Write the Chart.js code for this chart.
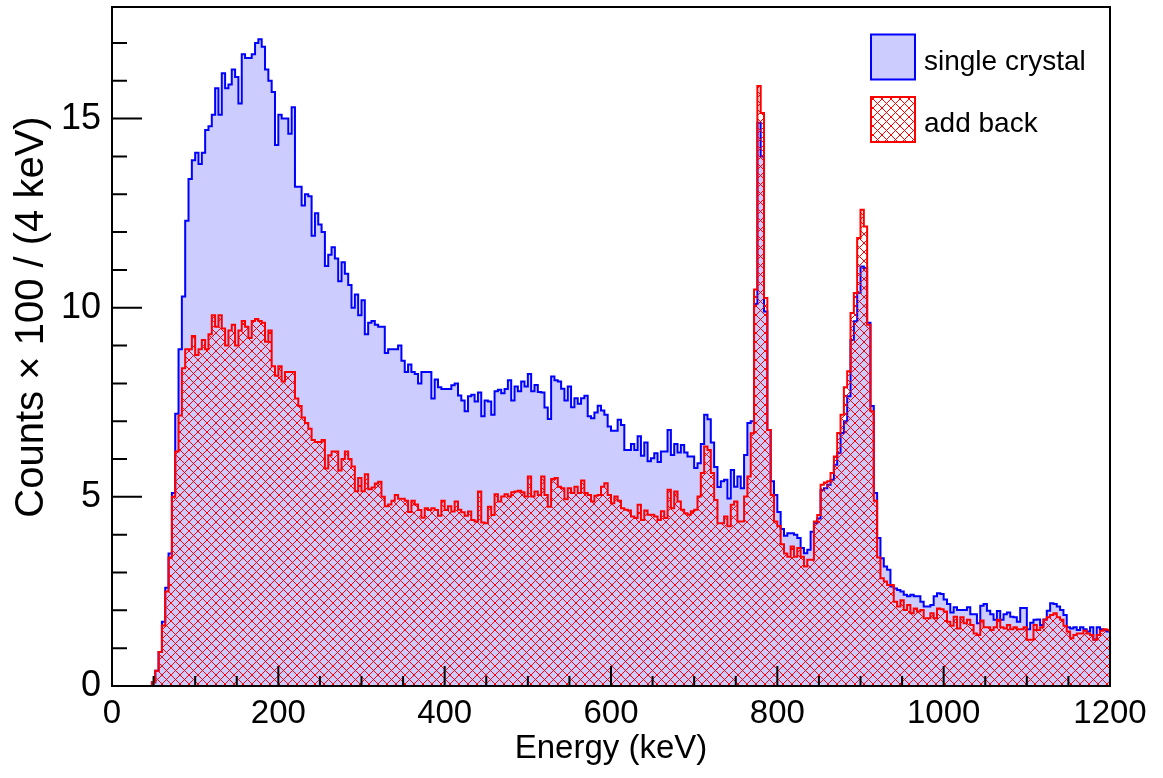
<!DOCTYPE html>
<html>
<head>
<meta charset="utf-8">
<script src="https://cdn.jsdelivr.net/npm/chart.js@4.4.1/dist/chart.umd.min.js"></script>
<style>
  body { margin: 0; background: #fff; }
  canvas { display: block; }
</style>
</head>
<body>
<canvas id="spectrum" width="1163" height="778"></canvas>
<script>
// 300 bins of 4 keV, 0 - 1200 keV, counts / 100
const binWidth = 4;

const singleCrystal = [
  0, 0, 0, 0, 0, 0, 0, 0, 0, 0,
  0, 0, 0.1, 0.4, 0.9, 1.7, 2.6, 3.5, 5.1, 7.2,
  8.9, 10.3, 12.3, 13.4, 13.9, 14.1, 13.8, 14.1, 14.7, 14.8,
  15.1, 15.8, 15.1, 16.2, 15.8, 15.9, 16.3, 16.1, 15.4, 16.7,
  16.6, 16.6, 16.7, 17.0, 17.1, 16.9, 16.3, 16.0, 15.7, 14.3,
  15.1, 15.0, 15.0, 14.6, 15.3, 13.2, 13.2, 12.7, 13.0, 12.95,
  11.9, 12.5, 12.2, 12.0, 11.1, 11.4, 11.6, 11.3, 10.7, 11.2,
  10.9, 10.6, 10.0, 10.35, 9.8, 10.2, 9.3, 9.6, 9.65, 9.55,
  9.5, 9.5, 8.8, 8.9, 8.9, 8.9, 9.0, 8.6, 8.3, 8.5,
  8.3, 8.25, 8.0, 8.3, 8.3, 8.3, 7.6, 8.1, 7.9, 7.85,
  7.85, 7.85, 7.95, 8.0, 7.68, 7.55, 7.26, 7.66, 7.7, 7.52,
  7.76, 7.13, 7.55, 7.52, 7.17, 7.79, 7.83, 7.74, 7.85, 8.08,
  7.55, 7.92, 7.79, 8.05, 7.92, 8.25, 7.79, 7.96, 7.77, 7.76,
  7.36, 7.06, 8.18, 8.08, 8.05, 7.86, 7.55, 7.92, 7.37, 7.61,
  7.46, 7.61, 7.67, 7.13, 7.08, 7.23, 7.41, 7.28, 7.17, 6.86,
  6.75, 6.75, 7.04, 6.9, 6.24, 6.24, 6.4, 6.24, 6.6, 6.09,
  6.44, 5.94, 6.02, 6.15, 5.92, 6.2, 6.2, 6.77, 6.11, 6.4,
  6.17, 6.37, 6.17, 6.07, 6.07, 5.76, 5.89, 6.4, 7.17, 7.05,
  6.44, 5.79, 5.26, 5.41, 5.45, 4.96, 5.71, 5.27, 5.54, 5.23,
  6.11, 6.95, 7.0, 10.1, 14.89, 14.0, 9.9, 6.77, 5.41, 5.05,
  4.6, 4.15, 3.97, 4.04, 4.04, 4.0, 3.91, 3.65, 3.51, 3.6,
  4.08, 4.3, 4.43, 5.18, 5.23, 5.32, 5.45, 5.85, 6.16, 6.69,
  7.0, 7.66, 9.15, 9.64, 10.39, 11.09, 11.05, 9.6, 7.4, 5.1,
  3.91, 3.38, 3.16, 3.07, 2.63, 2.58, 2.54, 2.5, 2.41, 2.37,
  2.41, 2.37, 2.37, 2.23, 2.1, 2.1, 2.14, 2.37, 2.45, 2.43,
  2.29, 2.17, 1.94, 2.08, 2.01, 2.01, 2.01, 2.08, 1.9, 1.9,
  1.66, 2.12, 2.17, 1.99, 1.9, 1.75, 1.98, 1.75, 1.9, 1.94,
  1.83, 1.82, 1.70, 2.06, 2.06, 1.5, 1.67, 1.75, 1.76, 1.61,
  1.76, 1.99, 2.19, 2.17, 2.1, 2.01, 1.88, 1.55, 1.52, 1.55,
  1.48, 1.55, 1.5, 1.44, 1.55, 1.23, 1.55, 1.5, 1.48, 1.44
];

const addBack = [
  0, 0, 0, 0, 0, 0, 0, 0, 0, 0,
  0, 0, 0.1, 0.4, 0.9, 1.6, 2.5, 3.4, 5.0, 6.2,
  7.15, 8.4, 8.9, 8.9, 9.25, 8.75, 8.9, 9.15, 8.9, 9.3,
  9.8, 9.5, 9.8, 9.45, 9.0, 9.4, 9.55, 9.0, 9.4, 9.65,
  9.5, 9.2, 9.65, 9.7, 9.65, 9.6, 9.1, 9.4, 8.45, 8.2,
  8.45, 8.05, 8.3, 8.3, 8.3, 7.6, 7.4, 7.1, 6.95, 6.8,
  6.5, 6.45, 6.45, 6.5, 5.75, 6.1, 6.2, 6.2, 5.7, 6.0,
  6.2, 6.0, 5.8, 5.15, 5.5, 5.15, 5.6, 5.2, 5.25, 5.35,
  5.4, 5.0, 4.75, 4.8, 4.9, 5.05, 4.95, 4.95, 4.9, 4.6,
  4.9, 4.8, 4.65, 4.45, 4.7, 4.65, 4.7, 4.65, 4.5, 4.9,
  4.65, 4.75, 4.61, 4.88, 4.66, 4.59, 4.5, 4.61, 4.39, 4.35,
  5.14, 4.32, 4.3, 4.74, 4.52, 5.07, 4.88, 5.01, 5.07, 5.01,
  5.12, 5.14, 5.16, 5.12, 5.01, 5.54, 5.01, 5.14, 5.05, 5.54,
  5.05, 4.74, 5.47, 5.5, 5.27, 5.23, 4.94, 5.23, 5.1, 5.27,
  5.1, 5.43, 5.1, 5.05, 4.88, 5.03, 5.05, 5.27, 5.36, 5.05,
  4.83, 5.01, 4.9, 4.7, 4.66, 4.64, 4.48, 4.44, 4.79, 4.39,
  4.64, 4.53, 4.53, 4.48, 4.39, 4.62, 4.44, 5.19, 4.7, 5.14,
  4.88, 4.66, 4.57, 4.53, 4.62, 4.66, 5.01, 5.63, 6.33, 6.24,
  5.63, 4.92, 4.3, 4.3, 4.48, 4.22, 4.79, 4.88, 4.35, 4.35,
  5.01, 5.54, 6.68, 10.48, 15.86, 15.15, 10.26, 6.77, 5.05, 4.35,
  4.23, 3.75, 3.5, 3.42, 3.69, 3.42, 3.65, 3.42, 3.16, 3.34,
  3.34, 4.35, 4.52, 5.32, 5.38, 5.41, 5.63, 6.07, 6.69, 7.17,
  7.9, 8.32, 9.86, 10.39, 11.84, 12.59, 12.15, 9.55, 7.26, 4.9,
  3.4, 2.85, 2.76, 2.67, 2.67, 2.23, 2.1, 2.27, 2.01, 2.14,
  1.92, 2.05, 1.97, 2.01, 1.79, 1.79, 1.92, 1.79, 2.05, 2.03,
  1.97, 1.70, 1.59, 1.83, 1.52, 1.82, 1.66, 1.75, 1.61, 1.39,
  1.35, 1.73, 1.55, 1.55, 1.48, 1.55, 1.75, 1.55, 1.52, 1.61,
  1.5, 1.55, 1.5, 1.5, 1.55, 1.22, 1.22, 1.61, 1.48, 1.55,
  1.75, 1.82, 1.88, 1.92, 1.82, 1.75, 1.59, 1.44, 1.26, 1.35,
  1.39, 1.39, 1.46, 1.39, 1.35, 1.22, 1.35, 1.46, 1.5, 1.48
];

const xTickLabels = [0, 200, 400, 600, 800, 1000, 1200];
const yTickLabels = [0, 5, 10, 15];
const xMinorStep = 50;
const yMinorStep = 1;
const yMax = 17.95;

const FONT = '"Liberation Sans", Arial, Helvetica, sans-serif';
const LAVENDER = 'rgb(204,204,255)';

// lower bin edges + closing point, drawn as a stepped line
const toSteps = values => {
    const pts = values.map((v, i) => ({ x: i * binWidth, y: v }));
    pts.push({ x: values.length * binWidth, y: values[values.length - 1] });
    return pts;
};

// ROOT style 3344 cross hatch, one pixel wide diagonals
const makeHatch = () => {
    const size = 9;
    const c = document.createElement('canvas');
    c.width = size;
    c.height = size;
    const g = c.getContext('2d');
    g.fillStyle = '#ff0000';
    for (let i = 0; i < size; i++) {
        g.fillRect(i, i, 1, 1);
        g.fillRect(size - 1 - i, i, 1, 1);
    }
    return g.createPattern(c, 'repeat');
};

const ctx = document.getElementById('spectrum').getContext('2d');
const hatch = makeHatch();

const rootStyle = {
    id: 'rootStyle',
    afterDatasetsDraw(chart) {
        const { ctx, chartArea: a, scales } = chart;
        ctx.save();
        ctx.strokeStyle = '#000';
        ctx.lineWidth = 2;
        // ticks, drawn inside the frame
        ctx.beginPath();
        for (let v = 0; v <= 1200; v += xMinorStep) {
            const px = scales.x.getPixelForValue(v);
            const len = v % 200 === 0 ? 20 : 10;
            ctx.moveTo(px, a.bottom);
            ctx.lineTo(px, a.bottom - len);
        }
        for (let v = yMinorStep; v < yMax; v += yMinorStep) {
            const py = scales.y.getPixelForValue(v);
            const len = v % 5 === 0 ? 30 : 15;
            ctx.moveTo(a.left, py);
            ctx.lineTo(a.left + len, py);
        }
        ctx.stroke();
        ctx.strokeRect(a.left, a.top, a.right - a.left, a.bottom - a.top);
        ctx.restore();
    },
    afterDraw(chart) {
        const { ctx, chartArea: a } = chart;
        ctx.save();
        ctx.fillStyle = '#000';
        // axis titles
        ctx.font = '33px ' + FONT;
        ctx.textAlign = 'center';
        ctx.textBaseline = 'alphabetic';
        ctx.fillText('Energy (keV)', (a.left + a.right) / 2, 758);
        ctx.save();
        ctx.translate(43, 317);
        ctx.rotate(-Math.PI / 2);
        ctx.font = '40px ' + FONT;
        ctx.fillText('Counts \u00d7 100 / (4 keV)', 0, 0);
        ctx.restore();

        // legend
        const ds = chart.data.datasets;
        const rows = [{ y: 34.5, base: 70 }, { y: 97, base: 131.5 }];
        ds.forEach((d, i) => {
            const r = rows[i];
            ctx.fillStyle = '#fff';
            ctx.fillRect(871, r.y, 44, 45);
            ctx.fillStyle = d.backgroundColor;
            ctx.fillRect(871, r.y, 44, 45);
            ctx.strokeStyle = d.borderColor;
            ctx.lineWidth = 2;
            ctx.strokeRect(871, r.y, 44, 45);
            ctx.fillStyle = '#000';
            ctx.font = '28px ' + FONT;
            ctx.textAlign = 'left';
            ctx.fillText(d.label, 924, r.base);
        });
        ctx.restore();
    }
};

new Chart(ctx, {
    type: 'line',
    data: {
        datasets: [
            {
                label: 'single crystal',
                data: toSteps(singleCrystal),
                stepped: 'before',
                borderColor: '#0000ff',
                backgroundColor: LAVENDER,
                borderWidth: 2,
                fill: 'origin',
                pointRadius: 0,
                order: 2
            },
            {
                label: 'add back',
                data: toSteps(addBack),
                stepped: 'before',
                borderColor: '#ff0000',
                backgroundColor: hatch,
                borderWidth: 2,
                fill: 'origin',
                pointRadius: 0,
                order: 1
            }
        ]
    },
    options: {
        responsive: false,
        animation: false,
        events: [],
        layout: { padding: { top: 7, right: 53, left: 0, bottom: 0 } },
        plugins: {
            legend: { display: false },
            tooltip: { enabled: false }
        },
        scales: {
            x: {
                type: 'linear',
                min: 0,
                max: 1200,
                afterBuildTicks: s => { s.ticks = xTickLabels.map(v => ({ value: v })); },
                afterFit: s => {
                    s.height = 92;
                    s.paddingLeft = 0;
                    s.paddingRight = 0;
                },
                grid: { display: false },
                border: { display: false },
                ticks: {
                    color: '#000',
                    font: { family: FONT, size: 33 },
                    padding: 0,
                    maxRotation: 0,
                    autoSkip: false,
                    callback: v => String(v)
                }
            },
            y: {
                type: 'linear',
                min: 0,
                max: yMax,
                afterBuildTicks: s => { s.ticks = yTickLabels.map(v => ({ value: v })); },
                afterFit: s => {
                    s.width = 112;
                    s.paddingTop = 0;
                    s.paddingBottom = 0;
                },
                grid: { display: false },
                border: { display: false },
                ticks: {
                    color: '#000',
                    font: { family: FONT, size: 36 },
                    padding: 3,
                    callback: v => String(v)
                }
            }
        }
    },
    plugins: [rootStyle]
});
</script>
</body>
</html>
